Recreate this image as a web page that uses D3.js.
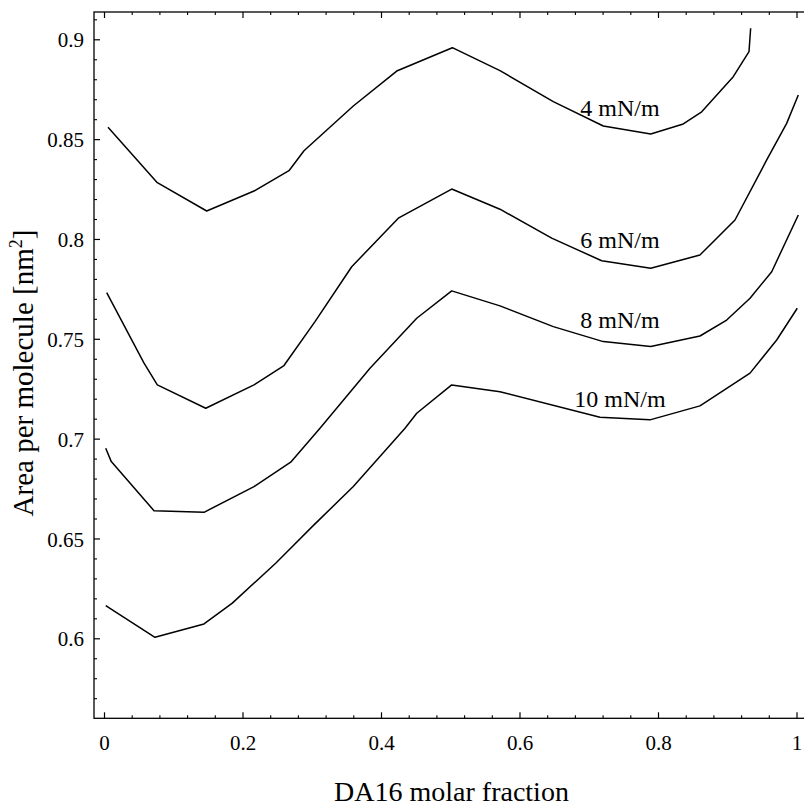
<!DOCTYPE html>
<html>
<head>
<meta charset="utf-8">
<script src="https://cdn.jsdelivr.net/npm/d3@7"></script>
<style>
  html, body { margin: 0; padding: 0; background: #fff; }
  svg { display: block; }
  text { font-family: "Liberation Serif", "Times New Roman", serif; fill: #000; }
</style>
</head>
<body>
<svg id="chart" width="804" height="808"></svg>
<script>
// ---- data ----
const seriesNames = ["4 mN/m", "6 mN/m", "8 mN/m", "10 mN/m"];

const x4  = [0.0058, 0.0770, 0.1483, 0.2166, 0.2671, 0.2888, 0.3600, 0.4227, 0.5030, 0.5718, 0.6488, 0.7210, 0.7895, 0.8365, 0.8631, 0.9087, 0.9314, 0.9338];
const y4  = [0.8559, 0.8282, 0.8140, 0.8240, 0.8342, 0.8442, 0.8666, 0.8841, 0.8958, 0.8843, 0.8688, 0.8566, 0.8526, 0.8576, 0.8637, 0.8813, 0.8938, 0.9055];

const x6  = [0.0039, 0.0578, 0.0770, 0.1469, 0.2166, 0.2599, 0.3047, 0.3577, 0.4250, 0.5021, 0.5718, 0.6465, 0.7187, 0.7895, 0.8606, 0.9112, 0.9570, 0.9858, 1.0026];
const y6  = [0.7731, 0.7378, 0.7269, 0.7152, 0.7269, 0.7366, 0.7586, 0.7861, 0.8104, 0.8250, 0.8149, 0.8004, 0.7891, 0.7853, 0.7920, 0.8095, 0.8396, 0.8579, 0.8721];

const x8  = [0.0025, 0.0105, 0.0722, 0.1444, 0.2166, 0.2696, 0.3119, 0.3841, 0.4516, 0.5021, 0.5718, 0.6488, 0.7210, 0.7895, 0.8606, 0.8992, 0.9329, 0.9642, 1.0026];
const y8  = [0.6952, 0.6885, 0.6639, 0.6631, 0.6760, 0.6882, 0.7052, 0.7353, 0.7603, 0.7740, 0.7665, 0.7561, 0.7486, 0.7461, 0.7514, 0.7594, 0.7703, 0.7836, 0.8120];

const x10 = [0.0025, 0.0736, 0.1444, 0.1853, 0.2479, 0.3032, 0.3600, 0.4347, 0.4516, 0.5021, 0.5718, 0.7162, 0.7884, 0.8606, 0.9329, 0.9714, 1.0011];
const y10 = [0.6164, 0.6005, 0.6072, 0.6176, 0.6376, 0.6568, 0.6760, 0.7052, 0.7127, 0.7269, 0.7235, 0.7107, 0.7094, 0.7164, 0.7328, 0.7494, 0.7653];

// label anchor points in data coordinates
const labelX = [0.7451, 0.7451, 0.7451, 0.7451];
const labelY = [0.8616, 0.7955, 0.7555, 0.7160];

const xTickValues = [0, 0.2, 0.4, 0.6, 0.8, 1];
const xTickLabels = ["0", "0.2", "0.4", "0.6", "0.8", "1"];
const yTickValues = [0.6, 0.65, 0.7, 0.75, 0.8, 0.85, 0.9];
const yTickLabels = ["0.6", "0.65", "0.7", "0.75", "0.8", "0.85", "0.9"];

const xTitle = "DA16 molar fraction";

// ---- layout ----
const svg = d3.select("#chart");
const x = d3.scaleLinear().domain([0, 1]).range([104, 796.5]);
const y = d3.scaleLinear().domain([0.6, 0.9]).range([638.3, 39.3]);
const frame = { left: 94, right: 805, top: 12, bottom: 718.3 };
const serif = '"Liberation Serif", "Times New Roman", serif';

const xMinor = d3.range(0, 1.0001, 0.04).filter(v => !xTickValues.some(t => Math.abs(t - v) < 1e-6));
const yMinor = d3.range(0.57, 0.9101, 0.01).filter(v => !yTickValues.some(t => Math.abs(t - v) < 1e-6));

const g = svg.append("g");

// frame
g.append("rect")
  .attr("x", frame.left).attr("y", frame.top)
  .attr("width", frame.right - frame.left).attr("height", frame.bottom - frame.top)
  .attr("fill", "none").attr("stroke", "#000").attr("stroke-width", 1.3);

// bottom axis (ticks inward)
const xAxisB = d3.axisBottom(x).tickValues(xTickValues).tickFormat((d, i) => xTickLabels[i]).tickSize(-6).tickPadding(17);
const gxb = g.append("g").attr("transform", `translate(0,${frame.bottom})`).call(xAxisB);
gxb.select(".domain").remove();
gxb.selectAll(".tick line").attr("stroke", "#000").attr("stroke-width", 1.2);
gxb.selectAll(".tick text").attr("font-size", 21).attr("font-family", serif).attr("dy", "0.71em");

const xAxisBMinor = d3.axisBottom(x).tickValues(xMinor).tickFormat("").tickSize(-3);
const gxbm = g.append("g").attr("transform", `translate(0,${frame.bottom})`).call(xAxisBMinor);
gxbm.select(".domain").remove();
gxbm.selectAll(".tick line").attr("stroke", "#000").attr("stroke-width", 1.1);

// top axis (mirrored ticks)
const xAxisT = d3.axisTop(x).tickValues(xTickValues).tickFormat("").tickSize(-6);
const gxt = g.append("g").attr("transform", `translate(0,${frame.top})`).call(xAxisT);
gxt.select(".domain").remove();
gxt.selectAll(".tick line").attr("stroke", "#000").attr("stroke-width", 1.2);
const xAxisTMinor = d3.axisTop(x).tickValues(xMinor).tickFormat("").tickSize(-3);
const gxtm = g.append("g").attr("transform", `translate(0,${frame.top})`).call(xAxisTMinor);
gxtm.select(".domain").remove();
gxtm.selectAll(".tick line").attr("stroke", "#000").attr("stroke-width", 1.1);

// left axis
const yAxisL = d3.axisLeft(y).tickValues(yTickValues).tickFormat((d, i) => yTickLabels[i]).tickSize(-6).tickPadding(10);
const gyl = g.append("g").attr("transform", `translate(${frame.left},0)`).call(yAxisL);
gyl.select(".domain").remove();
gyl.selectAll(".tick line").attr("stroke", "#000").attr("stroke-width", 1.2);
gyl.selectAll(".tick text").attr("font-size", 21).attr("font-family", serif).attr("dy", "0.36em");

const yAxisLMinor = d3.axisLeft(y).tickValues(yMinor).tickFormat("").tickSize(-3);
const gylm = g.append("g").attr("transform", `translate(${frame.left},0)`).call(yAxisLMinor);
gylm.select(".domain").remove();
gylm.selectAll(".tick line").attr("stroke", "#000").attr("stroke-width", 1.1);

// curves
const allX = [x4, x6, x8, x10];
const allY = [y4, y6, y8, y10];
const line = d3.line().x(d => x(d[0])).y(d => y(d[1]));
seriesNames.forEach((name, i) => {
  const pts = allX[i].map((xv, j) => [xv, allY[i][j]]);
  g.append("path")
    .datum(pts)
    .attr("d", line)
    .attr("fill", "none")
    .attr("stroke", "#000")
    .attr("stroke-width", 1.5)
    .attr("stroke-linejoin", "round");
  g.append("text")
    .attr("x", x(labelX[i]))
    .attr("y", y(labelY[i]))
    .attr("text-anchor", "middle")
    .attr("font-size", 24)
    .text(name);
});

// axis titles
g.append("text")
  .attr("x", (frame.left + frame.right) / 2 + 2)
  .attr("y", 801)
  .attr("text-anchor", "middle")
  .attr("font-size", 28)
  .text(xTitle);

const yt = g.append("text")
  .attr("transform", `translate(33,373) rotate(-90)`)
  .attr("text-anchor", "middle")
  .attr("font-size", 29);
yt.append("tspan").text("Area per molecule [nm");
yt.append("tspan").attr("font-size", 18).attr("dy", -11).text("2");
yt.append("tspan").attr("dy", 11).text("]");
</script>
</body>
</html>
